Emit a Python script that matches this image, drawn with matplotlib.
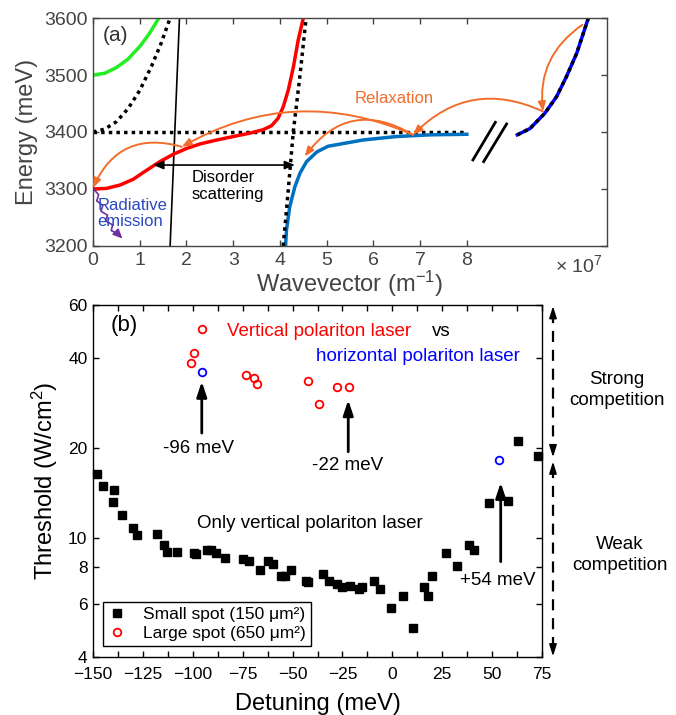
import matplotlib
matplotlib.use('Agg')
import matplotlib.pyplot as plt
from matplotlib.ticker import FixedLocator, MultipleLocator, NullLocator, NullFormatter, FixedFormatter

plt.rcParams['font.family'] = ['Liberation Sans', 'DejaVu Sans']
plt.rcParams['mathtext.fontset'] = 'custom'
plt.rcParams['mathtext.rm'] = 'Liberation Sans'
plt.rcParams['mathtext.it'] = 'Liberation Sans:italic'

# ---------------- panel (a) data (wavevector in 1e7 m^-1, energy in meV) ----------------
green_k = [0.0, 0.25, 0.5, 0.75, 1.0, 1.2, 1.41]
green_E = [3500, 3503, 3513, 3528, 3550, 3572, 3600]

photon1_k = [0.0, 0.25, 0.5, 0.75, 1.0, 1.25, 1.45, 1.65]
photon1_E = [3400, 3405, 3418, 3441, 3473, 3515, 3554, 3600]

light_k = [1.65, 1.85]
light_E = [3200, 3600]

lp_k = [0.0, 0.29, 0.58, 0.86, 1.15, 1.43, 1.72, 2.0, 2.29, 2.65, 3.0, 3.36, 3.64,
        3.82, 3.96, 4.07, 4.18, 4.29, 4.39, 4.5]
lp_E = [3300, 3301, 3307, 3317, 3333, 3348, 3361, 3371, 3379, 3386, 3392, 3398, 3404,
        3411, 3424, 3444, 3474, 3515, 3561, 3600]

photon2_k = [4.07, 4.18, 4.285, 4.43, 4.56]
photon2_E = [3200, 3300, 3400, 3500, 3600]

blue_k = [4.12, 4.14, 4.21, 4.32, 4.43, 4.57, 4.79, 5.03, 5.78, 6.49, 7.21, 8.0]
blue_E = [3200, 3228, 3269, 3304, 3328, 3348, 3365, 3375, 3386, 3392, 3395, 3396]

exciton_k = [0.0, 8.0]
exciton_E = [3400, 3400]

right_k = [9.08, 9.35, 9.67, 9.92, 10.13, 10.35, 10.6]
right_E = [3395, 3406, 3433, 3462, 3497, 3538, 3600]

break1_k = [8.13, 8.61]
break1_E = [3351, 3417]
break2_k = [8.36, 8.85]
break2_E = [3348, 3414]

emis_k = [0.02, 0.12, 0.08, 0.21, 0.17, 0.31, 0.27, 0.42, 0.39, 0.52, 0.63]
emis_E = [3299, 3290, 3279, 3271, 3261, 3254, 3244, 3237, 3227, 3222, 3213]

a_xticks = [0, 1, 2, 3, 4, 5, 6, 7, 8]
a_yticks = [3200, 3300, 3400, 3500, 3600]

# ---------------- panel (b) data ----------------
small_det = [-148.1, -144.8, -139.5, -139.8, -135.3, -129.8, -127.8, -118.1, -114.4, -113.1,
             -108.1, -99.2, -98.4, -93.0, -91.0, -88.4, -83.9, -74.7, -71.7, -66.3,
             -62.5, -60.0, -55.8, -53.8, -50.8, -43.3, -42.1, -34.6, -31.6, -27.9,
             -25.4, -21.2, -16.6, -15.1, -9.4, -6.2, -0.8, 5.5, 10.4, 15.7,
             18.0, 19.7, 26.9, 32.4, 38.6, 40.9, 48.3, 58.0, 63.1, 73.1]
small_thr = [16.4, 14.9, 14.5, 13.2, 11.9, 10.8, 10.2, 10.3, 9.5, 9.0,
             9.0, 8.9, 8.85, 9.1, 9.1, 8.9, 8.55, 8.5, 8.4, 7.8,
             8.4, 8.2, 7.46, 7.46, 7.8, 7.2, 7.1, 7.6, 7.2, 7.0,
             6.84, 6.9, 6.75, 6.85, 7.2, 6.75, 5.83, 6.4, 5.0, 6.85,
             6.4, 7.46, 8.9, 8.06, 9.5, 9.1, 13.05, 13.3, 21.0, 18.8]

large_det = [-95.5, -99.2, -100.9, -73.3, -69.2, -68.0, -42.1, -36.6, -27.9, -21.7]
large_thr = [49.9, 41.4, 38.5, 35.0, 34.1, 32.7, 33.5, 28.0, 31.9, 31.9]

horiz_det = [-95.5, 53.6]
horiz_thr = [35.9, 18.2]

b_yticks = [4, 6, 8, 10, 20, 40, 60]
b_ylabels = ['4', '6', '8', '10', '20', '40', '60']
b_xticks = [-150, -125, -100, -75, -50, -25, 0, 25, 50, 75]

GRAY = '#444444'
ORANGE = '#F26D2B'

fig = plt.figure(figsize=(6.76, 7.15), dpi=100)
axa = fig.add_axes([0.1376, 0.656, 0.7604, 0.3188])
axb = fig.add_axes([0.1376, 0.0811, 0.6642, 0.4923])

# ================= panel (a) =================
DOT = (0, (1, 1.2))
axa.plot(green_k, green_E, color='#22EE22', lw=2.5, solid_joinstyle='round')
axa.plot(photon1_k, photon1_E, color='black', lw=2.5, ls=DOT)
axa.plot(light_k, light_E, color='black', lw=1.2)
axa.plot(exciton_k, exciton_E, color='black', lw=2.5, ls=DOT)
axa.plot(blue_k, blue_E, color='#0070C0', lw=2.5, solid_joinstyle='round')
axa.plot(lp_k, lp_E, color='#FF0000', lw=2.5, solid_joinstyle='round')
axa.plot(photon2_k, photon2_E, color='black', lw=2.5, ls=DOT)
axa.plot(right_k, right_E, color='#0000FF', lw=2.5, solid_joinstyle='round')
axa.plot(right_k, right_E, color='black', lw=2.5, ls=DOT)
axa.plot(break1_k, break1_E, color='black', lw=2)
axa.plot(break2_k, break2_E, color='black', lw=2)

arrow_kw = dict(arrowstyle='-|>,head_length=0.55,head_width=0.22', color=ORANGE, lw=1.4,
                shrinkA=0, shrinkB=0)
def orange_arrow(p0, p1, rad):
    axa.annotate('', xy=p1, xytext=p0,
                 arrowprops=dict(connectionstyle='arc3,rad=%g' % rad, **arrow_kw))

orange_arrow((10.47, 3588), (9.63, 3436), 0.3)
orange_arrow((9.63, 3436), (6.85, 3395), 0.35)
orange_arrow((6.85, 3395), (1.9, 3374), 0.25)
orange_arrow((6.85, 3395), (4.53, 3357), 0.45)
orange_arrow((1.9, 3374), (0.0, 3302), 0.43)

axa.annotate('', xy=(4.32, 3342), xytext=(1.29, 3342),
             arrowprops=dict(arrowstyle='<|-|>,head_length=0.6,head_width=0.25',
                             color='black', lw=1.2, shrinkA=0, shrinkB=0))

axa.plot(emis_k[:-1], emis_E[:-1], color='#7030A0', lw=1.2, solid_joinstyle='round')
axa.annotate('', xy=(emis_k[-1], emis_E[-1]), xytext=(emis_k[-2], emis_E[-2]),
             arrowprops=dict(arrowstyle='-|>,head_length=0.55,head_width=0.25',
                             color='#7030A0', lw=1.2, shrinkA=0, shrinkB=0))

axa.text(0.2, 3570, '(a)', fontsize=15, color='#333333', va='center', ha='left')
axa.text(2.1, 3305, 'Disorder\nscattering', fontsize=12, color='black', va='center',
         ha='left', linespacing=1.15)
axa.text(0.1, 3257, 'Radiative\nemission', fontsize=12, color='#2A48C0', va='center',
         ha='left', linespacing=1.1)
axa.text(6.45, 3459, 'Relaxation', fontsize=12, color=ORANGE, va='center', ha='center')

axa.set_xlim(0, 11)
axa.set_ylim(3200, 3600)
axa.xaxis.set_major_locator(FixedLocator(a_xticks))
axa.yaxis.set_major_locator(FixedLocator(a_yticks))
axa.tick_params(direction='in', top=True, right=True, length=4, width=1,
                labelsize=14, colors=GRAY, pad=4)
for s in axa.spines.values():
    s.set_color(GRAY)
    s.set_linewidth(1)
axa.set_xlabel('Wavevector (m$^{-1}$)', fontsize=17, color=GRAY, labelpad=0)
axa.set_ylabel('Energy (meV)', fontsize=17, color=GRAY, labelpad=4)
axa.text(0.945, -0.085, '× 10$^7$', transform=axa.transAxes, fontsize=14, color=GRAY,
         ha='center', va='center')

# ================= panel (b) =================
axb.set_yscale('log')
axb.plot(small_det, small_thr, 's', color='black', ms=5.8, ls='none', clip_on=False,
         label='Small spot (150 μm²)')
axb.plot(large_det, large_thr, 'o', mfc='none', mec='#FF0000', mew=1.3, ms=5.5, ls='none',
         label='Large spot (650 μm²)')
axb.plot(horiz_det, horiz_thr, 'o', mfc='none', mec='#0000FF', mew=1.3, ms=5.5, ls='none')

axb.set_xlim(-150, 75)
axb.set_ylim(4, 60)
axb.yaxis.set_major_locator(FixedLocator(b_yticks))
axb.yaxis.set_major_formatter(FixedFormatter(b_ylabels))
axb.yaxis.set_minor_locator(NullLocator())
axb.yaxis.set_minor_formatter(NullFormatter())
axb.xaxis.set_major_locator(FixedLocator(b_xticks))
axb.xaxis.set_minor_locator(MultipleLocator(12.5))
axb.tick_params(which='both', direction='in', top=True, right=True, length=4.5, width=1,
                labelsize=12.5, colors='black', pad=7)
axb.tick_params(axis='y', which='both', pad=4)
for s in axb.spines.values():
    s.set_linewidth(1)
axb.set_xlabel('Detuning (meV)', fontsize=17, labelpad=8)
axb.set_ylabel('Threshold (W/cm$^2$)', fontsize=17, labelpad=6)

black_arrow = dict(arrowstyle='-|>,head_length=0.9,head_width=0.3', color='black', lw=2,
                   shrinkA=0, shrinkB=0)
axb.annotate('', xy=(-95.5, 33.3), xytext=(-95.5, 22.4), arrowprops=black_arrow)
axb.annotate('', xy=(-22.1, 28.9), xytext=(-22.1, 19.4), arrowprops=black_arrow)
axb.annotate('', xy=(54.3, 15.3), xytext=(54.3, 8.33), arrowprops=black_arrow)
axb.text(-97.2, 19.9, '-96 meV', fontsize=13.5, ha='center', va='center')
axb.text(-22.2, 17.4, '-22 meV', fontsize=13.5, ha='center', va='center')
axb.text(52.7, 7.19, '+54 meV', fontsize=13.5, ha='center', va='center')

axb.text(-141, 51.4, '(b)', fontsize=16, ha='left', va='center')
axb.text(-83.0, 48.9, 'Vertical polariton laser', fontsize=13.5, color='#FF0000',
         ha='left', va='center')
axb.text(19.7, 48.9, 'vs', fontsize=13.5, color='black', ha='left', va='center')
axb.text(64.0, 40.3, 'horizontal polariton laser', fontsize=13.5, color='#0000FF',
         ha='right', va='center')
axb.text(-98.0, 11.2, 'Only vertical polariton laser', fontsize=13.5, ha='left', va='center')
axb.text(112.6, 31.2, 'Strong\ncompetition', fontsize=13.5, ha='center', va='center',
         linespacing=1.25)
axb.text(114.0, 8.77, 'Weak\ncompetition', fontsize=13.5, ha='center', va='center',
         linespacing=1.25)

# dashed double arrows outside the axes
axb.plot([80.5, 80.5], [57.0, 19.5], color='black', lw=1.6, ls=(0, (5, 3.5)), clip_on=False)
axb.plot([80.5, 80.5], [17.3, 4.2], color='black', lw=1.6, ls=(0, (5, 3.5)), clip_on=False)
head = dict(arrowstyle='-|>,head_length=0.7,head_width=0.22', color='black', lw=1.2,
            shrinkA=0, shrinkB=0)
for tip, tail in [((80.5, 59.5), (80.5, 55.0)), ((80.5, 18.6), (80.5, 20.0)),
                  ((80.5, 18.0), (80.5, 16.8)), ((80.5, 4.02), (80.5, 4.3))]:
    axb.annotate('', xy=tip, xytext=tail, arrowprops=head, annotation_clip=False)

leg = axb.legend(loc='lower left', bbox_to_anchor=(0.023, 0.031), fontsize=12.5,
                 frameon=True, fancybox=False, edgecolor='black', framealpha=1,
                 handlelength=1.0, handletextpad=1.0, borderpad=0.3, labelspacing=0.2,
                 borderaxespad=0)
leg.get_frame().set_linewidth(1)

fig.savefig('out.png', dpi=100)
